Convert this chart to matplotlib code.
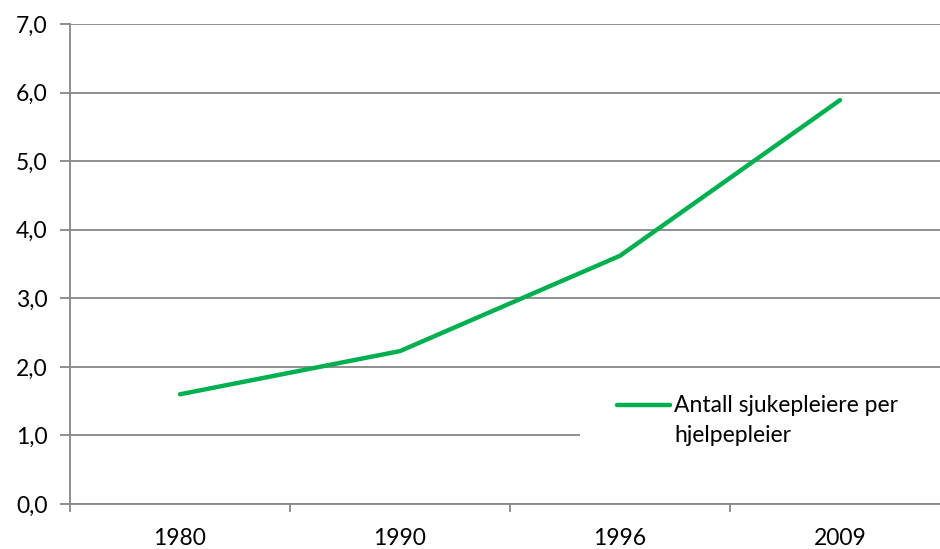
import matplotlib
matplotlib.use("Agg")
import numpy as np
import matplotlib.pyplot as plt
from matplotlib.patches import Rectangle
from matplotlib.legend_handler import HandlerLine2D

# data
years = ["1980", "1990", "1996", "2009"]
ratio = [1.60, 2.23, 3.62, 5.89]
label = "Antall sjukepleiere per\nhjelpepleier"

plt.rcParams['font.family'] = ['Lato', 'DejaVu Sans']
grey = '#868686'
green = '#00B050'
fs = 16.5


class FirstLineHandler(HandlerLine2D):
    # put the legend line next to the first line of the label, not in the middle
    def create_artists(self, legend, orig_handle, xdescent, ydescent,
                       width, height, fontsize, trans):
        arts = super().create_artists(legend, orig_handle, xdescent, ydescent,
                                      width, height, fontsize, trans)
        for a in arts:
            a.set_ydata(np.asarray(a.get_ydata()) + 0.72 * fontsize)
        return arts


fig = plt.figure(figsize=(9.4, 5.49), dpi=100)
ax = fig.add_axes([70 / 940, 45 / 549, 880 / 940, 480 / 549])

x = range(len(years))
line, = ax.plot(x, ratio, color=green, lw=3.2, solid_capstyle='round', zorder=3, label=label)

ax.set_xlim(-0.5, len(years) - 0.5)
ax.set_ylim(0, 7)
ax.set_yticks(range(8))
ax.set_yticklabels(["%d,0" % v for v in range(8)])
ax.set_xticks(list(x))
ax.set_xticklabels(years)
ax.set_xticks([i - 0.5 for i in range(len(years) + 1)], minor=True)

ax.grid(axis='y', color=grey, lw=1.3, zorder=0)
ax.set_axisbelow(True)
for side in ['top', 'right']:
    ax.spines[side].set_visible(False)
for side in ['left', 'bottom']:
    ax.spines[side].set_color(grey)
    ax.spines[side].set_linewidth(1.3)

ax.tick_params(axis='y', length=7, width=1.3, color=grey, pad=9, labelsize=fs)
ax.tick_params(axis='x', which='major', length=0, pad=17, labelsize=fs)
ax.tick_params(axis='x', which='minor', length=6, width=1.3, color=grey)

# white box behind the legend (covers part of the 1,0 gridline)
ax.add_patch(Rectangle(((580 - 70) / 880, (504 - 472) / 480), 0.5, 90 / 480,
                       transform=ax.transAxes, facecolor='white',
                       edgecolor='none', zorder=1))

leg = ax.legend(loc='upper left', bbox_to_anchor=((617 - 70) / 880, (504 - 395) / 480),
                frameon=False, fontsize=fs, handlelength=2.3, handletextpad=0.2,
                borderpad=0, borderaxespad=0, handler_map={line: FirstLineHandler()})
leg.get_texts()[0].set_linespacing(1.55)

fig.savefig("out.png", dpi=100)
